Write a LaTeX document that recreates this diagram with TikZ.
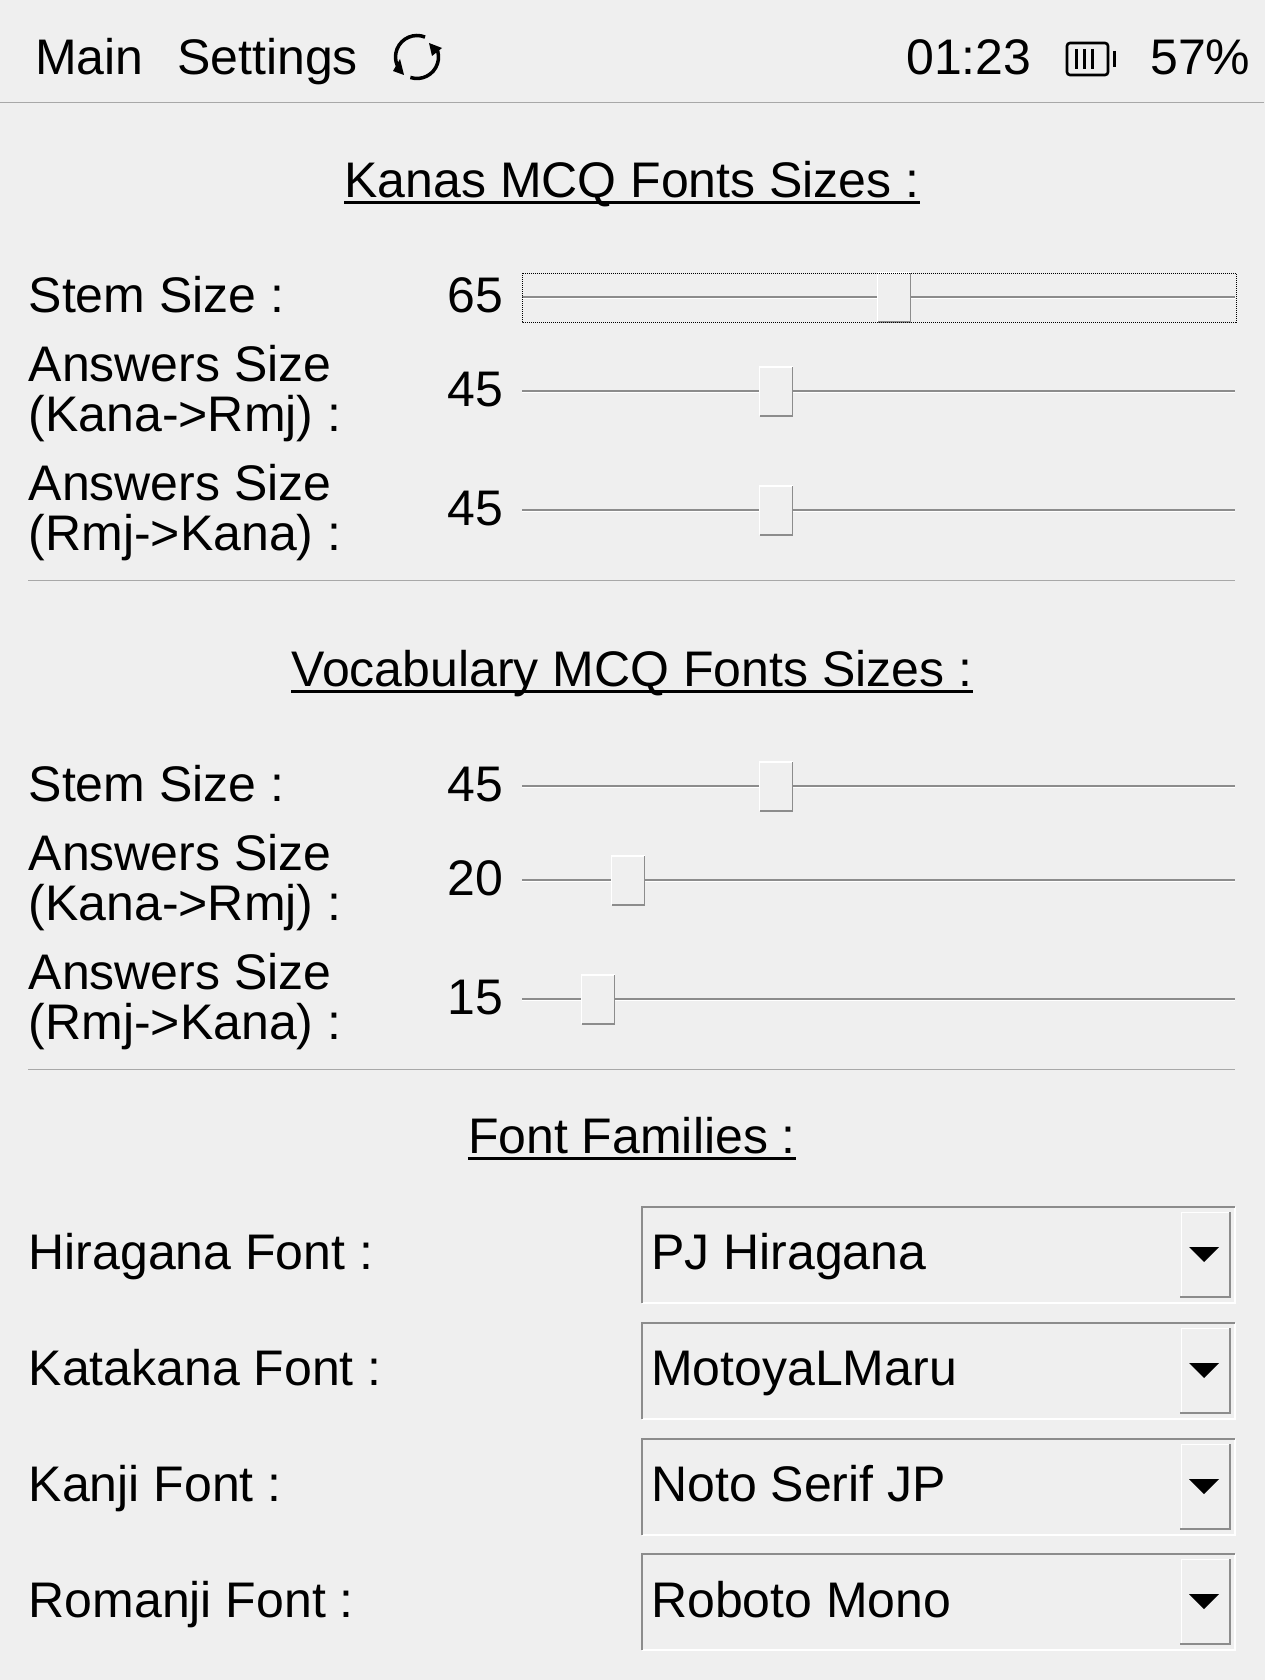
\documentclass[tikz,border=0pt]{standalone}
\usepackage{fontspec}
\setmainfont{Liberation Sans}
\usetikzlibrary{calc}
\definecolor{panel}{HTML}{EFEFEF}
\definecolor{edge}{HTML}{8C8C8C}
\definecolor{rulegrey}{HTML}{A8A8A8}
\tikzset{
  txt/.style={inner sep=0pt, anchor=base west, font=\fontsize{50}{50}\selectfont},
  val/.style={txt, anchor=base east},
  head/.style={txt, anchor=base},
}
\begin{document}
\begin{tikzpicture}[x=1pt, y=-1pt]
\useasboundingbox (0,0) rectangle (1264,1680);
\fill[panel] (-2,-2) rectangle (1266,1682);

% top bar
\node[txt] (main) at (35,75) {Main};
\node[txt] (settings) at (177,75) {Settings};
\node[txt] (clock) at (906,75) {01:23};
\node[txt] (charge) at (1150,75) {57\%};
\draw[rulegrey, line width=1.5pt] (0,102.5)--(1264,102.5);

% refresh icon
\draw[black, line width=3.5pt] (417,57) ++(-68:21.5) arc[start angle=-68, end angle=-205, radius=21.5];
\draw[black, line width=3.5pt] (417,57) ++(108:21.5) arc[start angle=108, end angle=-25, radius=21.5];
\fill (393,71)--(404,75)--(400,59)--cycle;
\fill (442,48)--(429,43)--(432,56)--cycle;

% battery
\draw[black, line width=2.6pt, rounded corners=3pt] (1067,43) rectangle (1108,75);
\draw[black, line width=3pt] (1114,51)--(1114,67);
\foreach \x in {1076,1084,1092}
 \draw[black, line width=3pt] (\x,49)--++(0,20);

% sections
\node[head] (kanahead) at (632,198) {Kanas MCQ Fonts Sizes :};
\node[head] (vocabhead) at (632,686) {Vocabulary MCQ Fonts Sizes :};
\node[head] (familyhead) at (632,1153) {Font Families :};
\foreach \h in {kanahead, vocabhead, familyhead}
 \draw[black, line width=3pt] ($(\h.base west)+(0,5)$)--($(\h.base east)+(0,5)$);

\draw[rulegrey] (28,580)--(1235,580);
\draw[rulegrey] (28,1069)--(1235,1069);

% labels
\node[txt] (stema) at (28.5,312) {Stem Size :};
\node[txt] (rmja) at (28.5,381) {Answers Size};
\node[txt] (rmjb) at (28.5,431) {(Kana->Rmj) :};
\node[txt] (kanaa) at (28.5,500) {Answers Size};
\node[txt] (kanab) at (28.5,550) {(Rmj->Kana) :};
\node[txt] (stemb) at (28.5,801) {Stem Size :};
\node[txt] (rmjc) at (28.5,870) {Answers Size};
\node[txt] (rmjd) at (28.5,920) {(Kana->Rmj) :};
\node[txt] (kanac) at (28.5,989) {Answers Size};
\node[txt] (kanad) at (28.5,1039) {(Rmj->Kana) :};

% sliders
\foreach \y/\hx/\v in {297/877.5/65, 391/759.5/45, 510/759.5/45, 786/759.5/45, 880/611.5/20, 999/581.5/15}{
 \node[val] (num\y) at (503.5,\y+15.5) {\v};
 \draw[edge, line width=1.5pt] (522,\y)--(1235,\y);
 \draw[white, line width=1.5pt] (522,\y+1.5)--(1235,\y+1.5);
 \fill[panel] (\hx,\y-24) rectangle ++(33,49);
 \draw[white, line width=1.5pt] (\hx,\y+25)--(\hx,\y-24)--++(33,0);
 \draw[edge, line width=1.5pt] (\hx,\y+25)--++(33,0)--++(0,-49);
}
\draw[black, densely dotted, line width=1pt] (522,273) rectangle (1236,322);

% font families
\foreach \y/\ty/\nm/\lab/\pick in {1207/1269/hira/Hiragana Font :/PJ Hiragana, 1323/1385/kata/Katakana Font :/MotoyaLMaru, 1439/1501/kanji/Kanji Font :/Noto Serif JP, 1554/1617/roma/Romanji Font :/Roboto Mono}{
 \node[txt] (\nm) at (28.5,\ty) {\lab};
 \node[txt] (\nm box) at (651,\ty) {\pick};
 \draw[white, line width=1.5pt] (642,\y+96)--(1235,\y+96)--(1235,\y);
 \draw[edge, line width=1.5pt] (642,\y+96)--(642,\y)--(1235,\y);
 \draw[white, line width=1pt] (1181,\y+90)--(1181,\y+5)--(1229,\y+5);
 \draw[edge, line width=1.5pt] (1180,\y+90)--(1230,\y+90)--(1230,\y+5);
 \fill[black] (1189,\y+40)--(1219,\y+40)--(1204,\y+55)--cycle;
}
\end{tikzpicture}
\end{document}
